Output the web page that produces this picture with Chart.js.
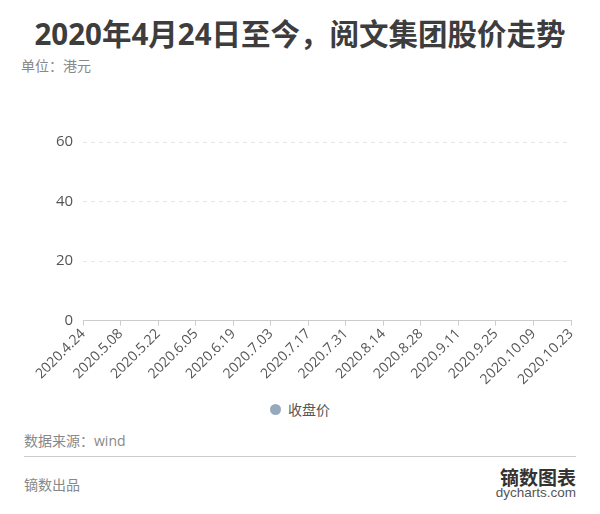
<!DOCTYPE html>
<html>
<head>
<meta charset="utf-8">
<script src="https://cdn.jsdelivr.net/npm/chart.js@4"></script>
<style>
  body { margin: 0; width: 600px; height: 514px; background: #fff; position: relative; overflow: hidden;
         font-family: "Open Sans", "Noto Sans CJK SC", sans-serif; }
  .abs { position: absolute; white-space: nowrap; line-height: 1; }
  #title { left: 0; width: 600px; top: 19px; text-align: center; font-size: 29.5px; font-weight: 700; color: #3d3d3d; }
  #unit { left: 21px; top: 58px; font-size: 14px; color: #888; font-family: "Noto Sans CJK SC", sans-serif; }
  #chartBox { position: absolute; left: 0; top: 90px; width: 600px; height: 298px; }
  #legend { position: absolute; left: 0; width: 600px; top: 402px; display: flex; justify-content: center; }
  .legend-item { display: flex; align-items: center; font-size: 14px; color: #555; line-height: 1;
                 font-family: "Noto Sans CJK SC", sans-serif; }
  .legend-dot { width: 11px; height: 11px; border-radius: 50%; margin-right: 7px; }
  #source { left: 24px; top: 434px; font-size: 14px; color: #888; }
  #rule { position: absolute; left: 24px; top: 456px; width: 552px; height: 1px; background: #ccc; }
  #maker { left: 24px; top: 477px; font-size: 14px; color: #888; font-family: "Noto Sans CJK SC", sans-serif; }
  #logo { right: 24px; top: 467px; font-size: 19px; font-weight: 700; color: #333; font-family: "Noto Sans CJK SC", serif; }
  #site { right: 24px; top: 486px; font-size: 13.5px; color: #555; font-family: "Liberation Sans", sans-serif; }
</style>
</head>
<body>
<div id="title" class="abs">2020年4月24日至今，阅文集团股价走势</div>
<div id="unit" class="abs">单位：港元</div>
<div id="chartBox"><canvas id="priceChart"></canvas></div>
<div id="legend"></div>
<div id="source" class="abs">数据来源：wind</div>
<div id="rule"></div>
<div id="maker" class="abs">镝数出品</div>
<div id="logo" class="abs">镝数图表</div>
<div id="site" class="abs">dycharts.com</div>
<script>
// dates on the x axis
const DATES = ['2020.4.24', '2020.5.08', '2020.5.22', '2020.6.05', '2020.6.19', '2020.7.03', '2020.7.17',
               '2020.7.31', '2020.8.14', '2020.8.28', '2020.9.11', '2020.9.25', '2020.10.09', '2020.10.23'];
// closing price - the reference shows no plotted values
const CLOSE_PRICE = [null, null, null, null, null, null, null, null, null, null, null, null, null, null];
const Y_TICKS = [0, 20, 40, 60];

const FONT = '"Open Sans", "Noto Sans CJK SC", sans-serif';

const chart = new Chart(document.getElementById('priceChart'), {
    type: 'line',
    data: {
        labels: DATES,
        datasets: [{
            label: '收盘价',
            data: CLOSE_PRICE,
            borderColor: '#94a9bd',
            backgroundColor: '#94a9bd',
            borderWidth: 2,
            pointRadius: 0
        }]
    },
    options: {
        responsive: true,
        maintainAspectRatio: false,
        animation: false,
        layout: { padding: { top: 52, left: 46, right: 29, bottom: 0 } },
        plugins: {
            legend: { display: false },
            tooltip: { enabled: false }
        },
        scales: {
            x: {
                offset: false,
                grid: { drawOnChartArea: false, color: '#ccc', tickLength: 5 },
                border: { color: '#ccc' },
                ticks: {
                    autoSkip: false,
                    maxRotation: 45,
                    minRotation: 45,
                    color: '#555',
                    padding: 0,
                    font: { size: 14, family: FONT }
                }
            },
            y: {
                min: 0,
                max: 60,
                afterBuildTicks: axis => { axis.ticks = Y_TICKS.map(v => ({ value: v })); },
                grid: { color: '#e6e6e6', drawTicks: false },
                border: { display: false, dash: [4, 4] },
                ticks: {
                    color: '#555',
                    padding: 10,
                    font: { size: 15, family: FONT }
                }
            }
        }
    }
});

// html legend so it can sit centred on the page
const legendBox = document.getElementById('legend');
chart.data.datasets.forEach(ds => {
    const item = document.createElement('div');
    item.className = 'legend-item';
    item.innerHTML = `<span class="legend-dot" style="background:${ds.backgroundColor}"></span><span>${ds.label}</span>`;
    legendBox.appendChild(item);
});
</script>
</body>
</html>
